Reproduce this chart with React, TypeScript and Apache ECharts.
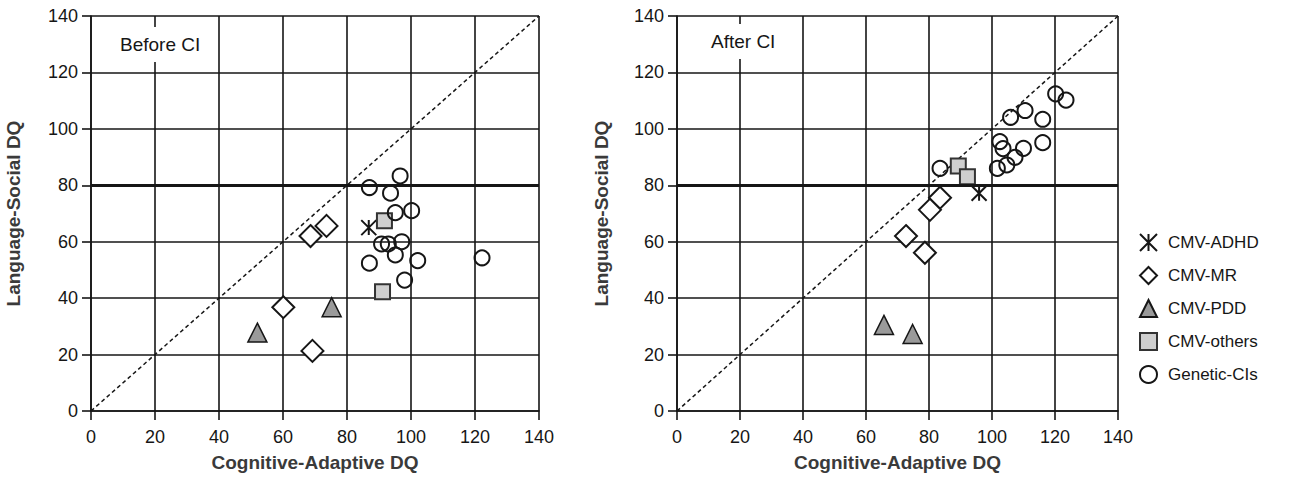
import React, { useEffect, useRef } from "react";
import * as echarts from "echarts";

const ticks = [0, 20, 40, 60, 80, 100, 120, 140];
const diagonal = [[0, 0], [140, 140]];
const emphasisLine = 80;

const beforeADHD = [[86.8, 65]];
const afterADHD = [[95.9, 77.2]];
const beforeMR = [[73.6, 65.6], [68.6, 62], [60.1, 36.8], [69.2, 21.3]];
const afterMR = [[83.5, 75.6], [80.3, 71.3], [72.7, 62], [78.7, 56.1]];
const beforePDD = [[52, 27.8], [75.2, 36.8]];
const afterPDD = [[65.7, 30.5], [74.8, 27.3]];
const beforeOthers = [[91.7, 67.4], [91.1, 42.3]];
const afterOthers = [[89.3, 86.8], [92.2, 83]];
const beforeGenetic = [
  [96.6, 83.3], [87, 79.2], [93.6, 77.2], [95.1, 70.3], [100.2, 71], [90.8, 59.2],
  [92.9, 59.2], [97.1, 60], [95.1, 55.3], [102.1, 53.3], [87, 52.4], [122.2, 54.3], [98, 46.4],
];
const afterGenetic = [
  [120.2, 112.4], [123.5, 110.2], [110.5, 106.5], [105.9, 104.1], [116.1, 103.4], [116.1, 95.1],
  [102.5, 95.5], [103.5, 93], [110, 93.1], [107.3, 89.9], [104.7, 87.2], [101.7, 86], [83.5, 86],
];

const panelTitles = ["Before CI", "After CI"];
const xTitle = "Cognitive-Adaptive DQ";
const yTitle = "Language-Social DQ";

const FONT = "'Liberation Sans', Arial, sans-serif";
const INK = "#161616";

const groups = [
  {
    name: "CMV-ADHD",
    data: [beforeADHD, afterADHD],
    symbol: "path://M0,0L10,10M10,0L0,10M5,0L5,10",
    size: 15,
    style: { color: INK, borderColor: INK, borderWidth: 2 },
  },
  {
    name: "CMV-MR",
    data: [beforeMR, afterMR],
    symbol: "diamond",
    size: 22,
    style: { color: "#fff", borderColor: INK, borderWidth: 2 },
  },
  {
    name: "CMV-PDD",
    data: [beforePDD, afterPDD],
    symbol: "triangle",
    size: 19,
    style: { color: "#9a9a9a", borderColor: INK, borderWidth: 1.5 },
  },
  {
    name: "CMV-others",
    data: [beforeOthers, afterOthers],
    symbol: "rect",
    size: 15,
    style: { color: "#cfcfcf", borderColor: "#333", borderWidth: 2 },
  },
  {
    name: "Genetic-CIs",
    data: [beforeGenetic, afterGenetic],
    symbol: "circle",
    size: 15,
    style: { color: "rgba(255,255,255,0)", borderColor: INK, borderWidth: 2 },
  },
];

export default function App() {
  const ref = useRef<HTMLDivElement>(null);
  useEffect(() => {
    document.body.style.margin = "0";
    const chart = echarts.init(ref.current!, null, { renderer: "svg" });

    const axisCommon = (isX: boolean, title: string, nameGap: number) => ({
      type: "value",
      min: ticks[0],
      max: ticks[ticks.length - 1],
      interval: 20,
      name: title,
      nameLocation: "middle",
      nameGap,
      nameTextStyle: { fontFamily: FONT, fontSize: 19, fontWeight: "bold", color: "#3a3a3a" },
      axisLine: { show: true, onZero: false, lineStyle: { color: INK, width: 1.6 } },
      axisTick: { show: true, inside: false, length: 9, lineStyle: { color: INK, width: 1.6 } },
      axisLabel: { fontFamily: FONT, fontSize: 18, color: INK, margin: isX ? 17 : 13 },
      splitLine: { show: true, lineStyle: { color: INK, width: 1.6 } },
    });

    const series: any[] = [];
    [0, 1].forEach((gi) => {
      series.push({
        type: "line",
        xAxisIndex: gi,
        yAxisIndex: gi,
        data: diagonal,
        symbol: "none",
        silent: true,
        lineStyle: { color: INK, width: 1.5, type: [4, 3] },
        markLine: {
          silent: true,
          symbol: "none",
          label: { show: false },
          lineStyle: { color: INK, width: 3, type: "solid" },
          data: [{ yAxis: emphasisLine }],
        },
        z: 1,
      });
    });
    groups.forEach((g) => {
      [0, 1].forEach((gi) => {
        series.push({
          type: "scatter",
          name: g.name,
          xAxisIndex: gi,
          yAxisIndex: gi,
          data: g.data[gi],
          symbol: g.symbol,
          symbolSize: g.size,
          itemStyle: { ...g.style, opacity: 1 },
          z: 3,
        });
      });
    });

    chart.setOption({
      animation: false,
      backgroundColor: "#fff",
      title: [
        {
          text: panelTitles[0],
          left: 113,
          top: 27,
          padding: [8, 7],
          backgroundColor: "#fff",
          textStyle: { fontFamily: FONT, fontSize: 19, fontWeight: "normal", color: INK },
        },
        {
          text: panelTitles[1],
          left: 704,
          top: 24,
          padding: [8, 7],
          backgroundColor: "#fff",
          textStyle: { fontFamily: FONT, fontSize: 19, fontWeight: "normal", color: INK },
        },
      ],
      grid: [
        { left: 91, top: 16, width: 448, height: 395 },
        { left: 677, top: 16, width: 441, height: 395 },
      ],
      xAxis: [axisCommon(true, xTitle, 42), { ...axisCommon(true, xTitle, 42), gridIndex: 1 }],
      yAxis: [axisCommon(false, yTitle, 68), { ...axisCommon(false, yTitle, 66), gridIndex: 1 }],
      legend: {
        orient: "vertical",
        left: 1134,
        top: 228,
        itemWidth: 17,
        itemHeight: 17,
        itemGap: 14,
        data: groups.map((g) => g.name),
        textStyle: { fontFamily: FONT, fontSize: 17, color: INK, padding: [0, 0, 0, 6] },
      },
      series,
    });
    return () => chart.dispose();
  }, []);
  return <div ref={ref} style={{ width: 1296, height: 479 }} />;
}
